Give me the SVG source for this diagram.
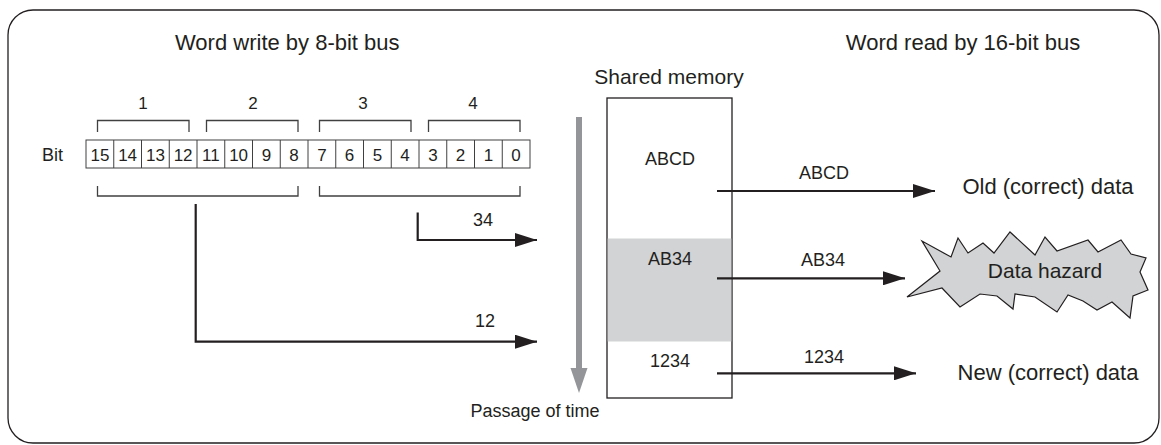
<svg xmlns="http://www.w3.org/2000/svg" width="1161" height="445" viewBox="0 0 1161 445">
<defs>
<style>
text{font-family:"Liberation Sans",Arial,sans-serif;fill:#231f20}
.t{font-size:22px}
.m{font-size:18px}
.d{font-size:17px;text-anchor:middle}
.c{text-anchor:middle}
.br{fill:none;stroke:#404041;stroke-width:1.3}
.cell{fill:#fff;stroke:#404041;stroke-width:1}
.ln{fill:none;stroke:#231f20;stroke-width:2.2}
</style>
<marker id="ah" markerUnits="userSpaceOnUse" markerWidth="22" markerHeight="14" refX="22" refY="7" orient="auto">
<path d="M0,0 L22,7 L0,14 z" fill="#231f20"/>
</marker>
</defs>
<rect x="8" y="10" width="1151" height="433" rx="25" fill="#fff" stroke="#231f20" stroke-width="1.3"/>
<g id="titles">
<text class="t" x="175" y="50">Word write by 8-bit bus</text>
<text class="t c" x="963" y="50">Word read by 16-bit bus</text>
</g>
<g id="bits">
<text class="m" x="42" y="161">Bit</text>
<g>
<rect class="cell" x="86" y="140" width="444" height="28"/>
<path d="M113.75,140V168M141.5,140V168M169.25,140V168M197,140V168M224.75,140V168M252.5,140V168M280.25,140V168M308,140V168M335.75,140V168M363.5,140V168M391.25,140V168M419,140V168M446.75,140V168M474.5,140V168M502.25,140V168" stroke="#404041" stroke-width="1"/>
</g>
<text class="d" x="99.9" y="161">15</text>
<text class="d" x="127.6" y="161">14</text>
<text class="d" x="155.4" y="161">13</text>
<text class="d" x="183.1" y="161">12</text>
<text class="d" x="210.9" y="161">11</text>
<text class="d" x="238.6" y="161">10</text>
<text class="d" x="266.4" y="161">9</text>
<text class="d" x="294.1" y="161">8</text>
<text class="d" x="321.9" y="161">7</text>
<text class="d" x="349.6" y="161">6</text>
<text class="d" x="377.4" y="161">5</text>
<text class="d" x="405.1" y="161">4</text>
<text class="d" x="432.9" y="161">3</text>
<text class="d" x="460.6" y="161">2</text>
<text class="d" x="488.4" y="161">1</text>
<text class="d" x="516.1" y="161">0</text>
</g>
<g id="brackets">
<path class="br" d="M97.5,132V120.5H189V132M206.5,132V120.5H298V132M319.5,132V120.5H411V132M428.5,132V120.5H520V132"/>
<path class="br" d="M97.5,186V196H298V186M319.5,186V196H520V186"/>
<text class="d" x="143" y="109">1</text>
<text class="d" x="253" y="109">2</text>
<text class="d" x="363" y="109">3</text>
<text class="d" x="473" y="109">4</text>
</g>
<g id="memory">
<text class="c" style="font-size:21px" x="669" y="84">Shared memory</text>
<rect x="607" y="98" width="125" height="300" fill="#fff" stroke="#231f20" stroke-width="1.3"/>
<rect x="607.7" y="238.5" width="123.6" height="103" fill="#d1d3d4"/>
<text class="m c" x="670" y="165">ABCD</text>
<text class="m c" x="670" y="265">AB34</text>
<text class="m c" x="670" y="367">1234</text>
</g>
<g id="time">
<rect x="576" y="117" width="6" height="252" fill="#939598"/>
<polygon points="570.5,368 587.5,368 579,393" fill="#939598"/>
<text class="m c" x="535" y="417">Passage of time</text>
</g>
<g id="hazard">
<polygon points="907,297 940,271 922,241 951,257 958,238 968,253 983,243 994,253 1010,232 1035,255 1045,237 1057,251 1088,240 1098,252 1121,240 1131,254 1146,258 1140,272 1148,290 1133,296 1130,318 1112,302 1097,310 1083,301 1068,295 1057,312 1035,297 1015,294 1013,309 997,296 980,294 960,307 942,288" fill="#d1d3d4" stroke="#231f20" stroke-width="1.2" stroke-linejoin="miter"/>
<text class="t c" x="1045" y="278" style="font-size:21px">Data hazard</text>
</g>
<g id="results">
<text class="t c" x="1048" y="194">Old (correct) data</text>
<text class="t c" x="1048" y="380">New (correct) data</text>
</g>
<g id="connectors">
<path class="ln" d="M195.7,204V341.7H537" marker-end="url(#ah)"/>
<path class="ln" d="M417.7,212.5V240H537" marker-end="url(#ah)"/>
<text class="m c" x="483" y="226">34</text>
<text class="m c" x="485" y="327">12</text>
<path class="ln" d="M717,191H935" marker-end="url(#ah)"/>
<path class="ln" d="M717,278.3H905" marker-end="url(#ah)"/>
<path class="ln" d="M717,373.3H916" marker-end="url(#ah)"/>
<text class="m c" x="824" y="179">ABCD</text>
<text class="m c" x="823" y="265.5">AB34</text>
<text class="m c" x="824" y="362.5">1234</text>
</g>
</svg>
